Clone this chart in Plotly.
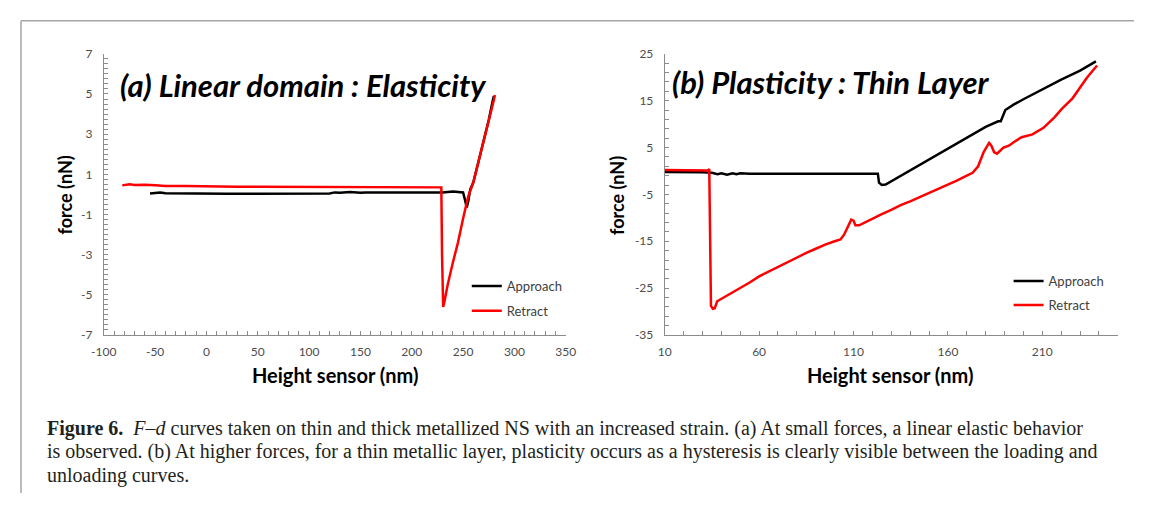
import plotly.graph_objects as go

# Page is 1152x509; the browser adds an 8px body margin, so the figure itself
# is 16px smaller and all layout positions below are given in page pixels.
PAGE_W, PAGE_H = 1152, 509
MARGIN = 8
W, H = PAGE_W - 2 * MARGIN, PAGE_H - 2 * MARGIN

# ---------------- data ----------------
approach_a_x = [-55, -50, -45, -40, -30, -20, -10, 0, 20, 40, 60, 80, 100, 120, 125, 130,
                140, 150, 155, 170, 200, 230, 240, 245, 250, 252, 253.5, 255, 257, 260,
                265, 270, 275, 279, 280]
approach_a_y = [0.05, 0.08, 0.1, 0.06, 0.05, 0.04, 0.03, 0.03, 0.03, 0.03, 0.03, 0.04, 0.04,
                0.05, 0.1, 0.08, 0.12, 0.08, 0.1, 0.1, 0.1, 0.1, 0.15, 0.12, 0.1, -0.3, -0.65,
                -0.35, 0.25, 0.6, 1.6, 2.6, 3.7, 4.7, 4.9]
retract_a_x = [-82, -75, -70, -60, -50, -40, -20, 0, 10, 20, 30, 50, 80, 100, 110, 120, 130,
               140, 160, 200, 228.8, 229.5, 230.6, 232, 235, 240, 245, 250, 255, 260, 265,
               270, 275, 280, 281]
retract_a_y = [0.45, 0.5, 0.47, 0.48, 0.45, 0.42, 0.42, 0.40, 0.38, 0.40, 0.38, 0.38, 0.37,
               0.36, 0.38, 0.35, 0.37, 0.35, 0.35, 0.35, 0.35, -3.0, -5.6, -5.3, -4.5, -3.4,
               -2.4, -1.2, -0.1, 0.6, 1.6, 2.7, 3.7, 4.7, 4.95]

approach_b_x = [10, 20, 30, 35, 38, 40, 43, 46, 48, 50, 55, 70, 90, 110, 122.9, 123.5, 125,
                127, 130, 140, 150, 160, 170, 180, 186.6, 188, 190.4, 195, 200, 210, 220,
                230, 238.4]
approach_b_y = [-0.2, -0.2, -0.3, -0.4, -0.7, -0.5, -0.8, -0.5, -0.7, -0.5, -0.6, -0.6, -0.6,
                -0.6, -0.6, -2.5, -3.0, -2.9, -2.2, 0.1, 2.4, 4.8, 7.1, 9.4, 10.6, 10.6, 13.0,
                14.2, 15.3, 17.4, 19.5, 21.4, 23.4]
retract_b_x = [10, 15, 20, 25, 30, 33, 33.6, 34.0, 34.5, 35.5, 36.5, 37.8, 40, 45, 50, 55, 60,
               65, 70, 75, 80, 85, 90, 95, 100, 103.1, 105, 107, 108.8, 110, 111, 113, 116,
               120, 125, 130, 135, 140, 145, 150, 155, 160, 165, 170, 173.1, 176, 179, 181.8,
               183, 184.5, 186, 189.4, 192.3, 195, 199, 204.8, 210.6, 216.3, 220.2, 226,
               229.8, 233.6, 239]
retract_b_y = [0.2, 0.2, 0.25, 0.2, 0.15, 0.1, 0.4, -12, -28.8, -29.4, -29.3, -27.8, -27.3,
               -26.2, -25.0, -23.8, -22.5, -21.5, -20.4, -19.4, -18.4, -17.5, -16.6, -15.7,
               -15.0, -14.6, -13.6, -12.0, -10.4, -10.6, -11.6, -11.6, -11.0, -10.1, -9.2,
               -8.3, -7.3, -6.5, -5.6, -4.8, -3.9, -2.9, -2.0, -1.0, -0.4, 1.0, 4.1, 6.0,
               5.4, 4.0, 3.7, 5.0, 5.4, 6.2, 7.2, 7.8, 9.2, 11.4, 13.2, 15.5, 17.8, 19.9, 22.5]

# tick labels (hyphen minus as in the original)
x_ticks_a = [-100, -50, 0, 50, 100, 150, 200, 250, 300, 350]
y_ticks_a = [-7, -5, -3, -1, 1, 3, 5, 7]
x_ticks_b = [10, 60, 110, 160, 210]
y_ticks_b = [-35, -25, -15, -5, 5, 15, 25]

series_names = ["Approach", "Retract"]
title_a = "(a) Linear domain : Elasticity"
title_b = "(b) Plasticity : Thin Layer"
x_title = "Height sensor (nm)"
y_title = "force (nN)"
caption_lines = [
    "<b>Figure\u00a06.</b>\u00a0\u00a0<i>F\u2013d</i> curves taken on thin and thick metallized NS with an increased strain. (a) At small forces, a linear elastic behavior",
    "is observed. (b) At higher forces, for a thin metallic layer, plasticity occurs as a hysteresis is clearly visible between the loading and",
    "unloading curves.",
]

def px_x(p):
    return (p - MARGIN) / W

def px_y(p):
    return 1 - (p - MARGIN) / H

BLACK = "#000000"
RED = "#ff0000"
AXIS = "#8c8c8c"
TICKFONT = dict(family="Lato", size=12, color="#4d4d4d")

fig = go.Figure()
fig.add_trace(go.Scatter(x=approach_a_x, y=approach_a_y, mode="lines", name=series_names[0],
                         line=dict(color=BLACK, width=2.5), xaxis="x", yaxis="y",
                         legend="legend", legendgroup="a1"))
fig.add_trace(go.Scatter(x=retract_a_x, y=retract_a_y, mode="lines", name=series_names[1],
                         line=dict(color=RED, width=2.5), xaxis="x", yaxis="y",
                         legend="legend", legendgroup="a2"))
fig.add_trace(go.Scatter(x=approach_b_x, y=approach_b_y, mode="lines", name=series_names[0],
                         line=dict(color=BLACK, width=2.5), xaxis="x2", yaxis="y2",
                         legend="legend2", legendgroup="b1"))
fig.add_trace(go.Scatter(x=retract_b_x, y=retract_b_y, mode="lines", name=series_names[1],
                         line=dict(color=RED, width=2.5), xaxis="x2", yaxis="y2",
                         legend="legend2", legendgroup="b2"))

ydom = [px_y(337), px_y(47)]

def labels(vals):
    return [str(v) for v in vals]

def axis(dom, rng, ticks, minor, anchor, standoff):
    return dict(domain=dom, range=rng, tickmode="array", tickvals=ticks,
                ticktext=labels(ticks), anchor=anchor,
                showgrid=False, zeroline=False, showline=True, linecolor=AXIS, linewidth=1,
                ticks="inside", ticklen=4, tickcolor=AXIS, tickfont=TICKFONT,
                ticklabelstandoff=standoff,
                minor=dict(tickmode="linear", tick0=rng[0], dtick=minor, ticks="inside",
                           ticklen=4, tickcolor=AXIS, showgrid=False))

fig.update_layout(
    width=W, height=H,
    margin=dict(l=0, r=0, t=0, b=0),
    paper_bgcolor="white", plot_bgcolor="white",
    showlegend=True,
    xaxis=axis([px_x(92.5), px_x(564)], [-100, 350], x_ticks_a, 10, "y", 6),
    yaxis=axis(ydom, [-7, 7], y_ticks_a, 0.25, "x", 8),
    xaxis2=axis([px_x(665), px_x(1127.5)], [10, 250], x_ticks_b, 10, "y2", 6),
    yaxis2=axis(ydom, [-35, 25], y_ticks_b, 2, "x2", 8),
    legend=dict(x=px_x(463), y=px_y(271), xanchor="left", yanchor="top",
                bgcolor="rgba(0,0,0,0)", font=dict(family="Lato", size=13, color="#404040"),
                traceorder="grouped", tracegroupgap=5, itemwidth=30),
    legend2=dict(x=px_x(1016), y=px_y(266), xanchor="left", yanchor="top",
                 bgcolor="rgba(0,0,0,0)", font=dict(family="Lato", size=13, color="#404040"),
                 traceorder="grouped", tracegroupgap=4, itemwidth=30),
)

ann = []
ann.append(dict(text="<b><i>" + title_a + "</i></b>", x=px_x(107), y=px_y(79.5), xref="paper",
                yref="paper", xanchor="left", yanchor="middle", showarrow=False,
                font=dict(family="Lato", size=31, color="#000000")))
ann.append(dict(text="<b><i>" + title_b + "</i></b>", x=px_x(670.5), y=px_y(76.5), xref="paper",
                yref="paper", xanchor="left", yanchor="middle", showarrow=False,
                font=dict(family="Lato", size=31, color="#000000")))
for cx in (328, 895):
    ann.append(dict(text="<b>" + x_title + "</b>", x=px_x(cx), y=px_y(378), xref="paper",
                    yref="paper", xanchor="center", yanchor="middle", showarrow=False,
                    font=dict(family="Lato", size=20, color="#000000")))
for cx in (53, 617):
    ann.append(dict(text="<b>" + y_title + "</b>", x=px_x(cx), y=px_y(193), xref="paper",
                    yref="paper", xanchor="center", yanchor="middle", showarrow=False,
                    textangle=-90, font=dict(family="Lato", size=18, color="#000000")))
for i, line in enumerate(caption_lines):
    ann.append(dict(text=line, x=px_x(33), y=px_y(433 + 24.5 * i), xref="paper", yref="paper",
                    xanchor="left", yanchor="middle", showarrow=False,
                    font=dict(family="Liberation Serif", size=20, color="#231f20")))
fig.update_layout(annotations=ann)

# figure frame (top and left rule)
fig.update_layout(shapes=[
    dict(type="line", xref="paper", yref="paper", x0=px_x(8), x1=1, y0=px_y(13), y1=px_y(13),
         line=dict(color="#a6a6a6", width=1.5)),
    dict(type="line", xref="paper", yref="paper", x0=px_x(8), x1=px_x(8), y0=px_y(13),
         y1=px_y(500), line=dict(color="#a6a6a6", width=1.5)),
])

fig.write_html("out.html")
